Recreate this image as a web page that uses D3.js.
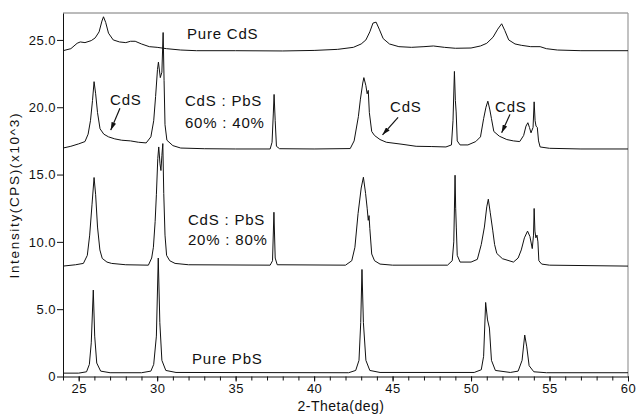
<!DOCTYPE html>
<html>
<head>
<meta charset="utf-8">
<script src="https://cdn.jsdelivr.net/npm/d3@7"></script>
<style>
  body { margin: 0; background: #fff; }
  svg { display: block; font-family: "Liberation Sans", Arial, sans-serif; }
</style>
</head>
<body>
<svg id="chart" width="636" height="416"></svg>
<script>
// traces: [2-theta (deg), intensity (x10^3 cps)]
const pureCdS = [
  [24.0,24.2],[24.5,24.35],[24.9,24.75],[25.1,24.85],[25.4,24.8],[25.8,24.95],[26.05,25.15],
  [26.3,25.6],[26.48,26.4],[26.58,26.72],[26.72,26.3],[26.9,25.5],[27.2,25.0],[27.6,24.85],
  [28.0,24.8],[28.3,24.9],[28.6,24.9],[29.0,24.7],[29.5,24.5],[30.0,24.45],[30.6,24.35],
  [31.5,24.25],[32.5,24.2],[35.0,24.2],[38.0,24.18],[40.0,24.22],[41.5,24.3],[42.5,24.45],
  [43.0,24.7],[43.3,25.0],[43.55,25.6],[43.75,26.25],[43.95,26.32],[44.15,25.8],[44.4,25.1],
  [44.8,24.7],[45.4,24.5],[46.2,24.45],[47.0,24.5],[47.6,24.55],[48.3,24.45],[49.0,24.38],
  [50.0,24.4],[50.6,24.55],[51.0,24.75],[51.4,25.2],[51.7,25.8],[51.95,26.2],[52.15,25.7],
  [52.4,25.0],[52.8,24.7],[53.2,24.6],[53.8,24.5],[54.4,24.5],[54.8,24.35],[55.5,24.25],
  [57.0,24.2],[60.0,24.2]
];
const mix6040 = [
  [24.0,16.97],[24.5,17.1],[25.0,17.28],[25.4,17.45],[25.6,18.0],[25.75,19.0],[25.88,20.5],
  [25.98,21.9],[26.08,21.0],[26.2,19.6],[26.36,18.4],[26.6,18.0],[26.9,17.8],[27.3,17.65],
  [27.74,17.55],[28.3,17.5],[28.8,17.4],[29.3,17.35],[29.6,17.8],[29.78,19.0],[29.9,20.8],
  [30.02,22.8],[30.08,23.35],[30.2,22.2],[30.3,22.6],[30.38,25.55],[30.44,22.0],[30.5,18.7],
  [30.62,17.55],[31.0,17.15],[31.5,16.97],[33.0,16.92],[35.0,16.9],[37.2,16.9],[37.32,17.4],
  [37.4,19.5],[37.45,20.95],[37.52,19.0],[37.6,17.1],[37.8,16.92],[40.0,16.9],[42.3,16.93],
  [42.55,17.5],[42.82,19.3],[42.95,20.6],[43.1,21.8],[43.17,22.2],[43.3,21.6],[43.38,21.0],
  [43.45,21.25],[43.52,19.6],[43.67,18.2],[43.85,17.9],[44.2,17.6],[44.6,17.4],[45.6,17.25],
  [46.5,17.1],[47.5,17.08],[48.4,17.05],[48.75,17.2],[48.85,19.0],[48.94,22.66],[49.0,20.5],
  [49.05,19.65],[49.12,17.5],[49.3,17.2],[49.8,17.2],[50.3,17.45],[50.6,17.8],[50.8,19.15],
  [50.95,20.0],[51.07,20.45],[51.2,19.8],[51.3,19.15],[51.45,18.2],[51.8,17.85],[52.28,17.6],
  [52.7,17.5],[53.1,17.45],[53.35,17.9],[53.5,18.6],[53.62,18.85],[53.72,18.5],[53.82,18.1],
  [53.95,18.5],[54.02,20.4],[54.08,19.0],[54.14,18.6],[54.22,18.5],[54.3,17.5],[54.4,17.05],
  [55.0,16.95],[57.0,16.9],[60.0,16.9]
];
const mix2080 = [
  [24.0,8.2],[24.8,8.3],[25.3,8.4],[25.55,9.0],[25.7,10.5],[25.85,12.8],[25.98,14.78],
  [26.08,13.5],[26.2,11.1],[26.35,9.4],[26.5,8.77],[26.8,8.5],[27.1,8.4],[28.0,8.3],
  [29.44,8.27],[29.65,8.8],[29.76,9.6],[29.87,11.5],[29.95,13.5],[30.04,16.2],[30.1,17.05],
  [30.18,15.8],[30.24,15.3],[30.3,16.4],[30.36,17.3],[30.42,13.6],[30.5,10.5],[30.6,9.0],
  [30.8,8.6],[31.14,8.4],[32.0,8.3],[37.2,8.27],[37.35,8.6],[37.44,12.2],[37.52,8.8],
  [37.65,8.3],[42.0,8.27],[42.4,8.6],[42.6,9.6],[42.8,12.1],[43.0,14.0],[43.14,14.8],
  [43.28,13.6],[43.38,12.5],[43.45,11.6],[43.5,11.95],[43.55,11.0],[43.67,9.1],[43.85,8.6],
  [44.2,8.35],[45.0,8.27],[48.5,8.27],[48.8,8.6],[48.9,10.0],[48.98,14.95],[49.02,12.5],
  [49.06,11.1],[49.12,9.0],[49.3,8.5],[50.0,8.5],[50.4,8.7],[50.65,9.8],[50.85,11.1],
  [51.0,12.6],[51.1,13.17],[51.22,12.2],[51.38,10.87],[51.5,9.8],[51.64,9.14],[52.0,8.75],
  [52.7,8.5],[53.0,8.8],[53.2,9.4],[53.4,10.3],[53.6,10.8],[53.75,10.4],[53.9,9.5],
  [53.98,10.5],[54.02,12.48],[54.07,10.8],[54.13,10.3],[54.2,10.5],[54.26,10.0],[54.32,8.6],
  [54.5,8.35],[55.0,8.27],[60.0,8.2]
];
const purePbS = [
  [24.0,0.25],[25.0,0.25],[25.5,0.35],[25.68,0.9],[25.8,2.5],[25.93,6.42],[26.02,3.0],
  [26.15,1.0],[26.4,0.4],[27.0,0.28],[29.0,0.28],[29.6,0.4],[29.78,0.9],[29.95,3.0],
  [30.07,8.8],[30.17,4.0],[30.3,1.2],[30.55,0.45],[31.2,0.3],[42.2,0.28],[42.65,0.45],
  [42.86,1.2],[42.97,4.0],[43.05,7.95],[43.14,4.0],[43.3,1.2],[43.55,0.45],[44.2,0.3],
  [50.2,0.3],[50.65,0.5],[50.8,1.5],[50.93,5.5],[51.05,4.2],[51.17,3.6],[51.3,1.2],
  [51.55,0.45],[52.5,0.3],[53.0,0.4],[53.25,1.2],[53.42,3.08],[53.55,2.2],[53.7,0.8],
  [54.0,0.35],[54.8,0.28],[60.0,0.28]
];
const traces = [pureCdS, mix6040, mix2080, purePbS];

// tick values
const xMajorTicks = [25, 30, 35, 40, 45, 50, 55, 60];
const yTicks = [0, 5, 10, 15, 20, 25];

// labels placed in data units: [text, x, y]
const labels = [
  ["Pure CdS", 31.9, 25.04],
  ["CdS", 27.0, 20.14],
  ["CdS : PbS", 31.77, 20.07],
  ["60% : 40%", 31.77, 18.43],
  ["CdS", 44.84, 19.62],
  ["CdS", 51.53, 19.62],
  ["CdS : PbS", 31.96, 11.24],
  ["20% : 80%", 31.96, 9.76],
  ["Pure PbS", 32.22, 0.93]
];
// arrows: [x1, y1, x2 (head), y2 (head)]
const arrows = [
  [27.63, 19.93, 27.04, 18.3],
  [45.35, 19.25, 44.36, 17.95],
  [52.48, 19.47, 51.95, 18.1]
];

const svg = d3.select("#chart");
const mLeft = 63, mRight = 628, mTop = 13, mBottom = 376.5;

const x = d3.scaleLinear().domain([24, 60]).range([mLeft, mRight]);
const y = d3.scaleLinear().domain([0, 27]).range([mBottom, mTop]);

// frame (top and right in grey)
svg.append("line")
  .attr("x1", mLeft).attr("x2", mRight).attr("y1", mTop).attr("y2", mTop)
  .attr("stroke", "#777").attr("stroke-width", 1);
svg.append("line")
  .attr("x1", mRight).attr("x2", mRight).attr("y1", mTop).attr("y2", mBottom)
  .attr("stroke", "#999").attr("stroke-width", 1.2);

// minor x ticks
const xMinor = svg.append("g")
  .attr("transform", `translate(0,${mBottom})`)
  .call(d3.axisBottom(x).tickValues(d3.range(24, 61, 1)).tickSize(4).tickFormat(""));
xMinor.select(".domain").remove();

// x axis
const xAxis = svg.append("g")
  .attr("transform", `translate(0,${mBottom})`)
  .call(d3.axisBottom(x).tickValues(xMajorTicks).tickSize(5).tickPadding(2).tickSizeOuter(0));
xAxis.selectAll("text").style("font-size", "13px").style("letter-spacing", "0.5px").attr("fill", "#111");

// y axis
const yAxis = svg.append("g")
  .attr("transform", `translate(${mLeft},0)`)
  .call(d3.axisLeft(y).tickValues(yTicks).tickSize(6).tickPadding(1).tickSizeOuter(0)
    .tickFormat(d => d === 0 ? "0" : d3.format(".1f")(d)));
yAxis.selectAll("text").style("font-size", "13px").style("letter-spacing", "0.5px").attr("fill", "#111");
svg.selectAll(".domain, .tick line").attr("stroke", "#111");

// axis titles
svg.append("text")
  .attr("x", 341).attr("y", 411)
  .attr("text-anchor", "middle")
  .style("font-size", "14px").style("letter-spacing", "0.5px")
  .attr("fill", "#111")
  .text("2-Theta(deg)");
svg.append("text")
  .attr("transform", "translate(19,196) rotate(-90)")
  .attr("text-anchor", "middle")
  .attr("textLength", 165).attr("lengthAdjust", "spacing")
  .style("font-size", "13.5px")
  .attr("fill", "#111")
  .text("Intensity(CPS)(x10^3)");

// traces
const line = d3.line().x(d => x(d[0])).y(d => y(d[1]));
svg.append("g").selectAll("path")
  .data(traces)
  .join("path")
  .attr("fill", "none")
  .attr("stroke", "#111")
  .attr("stroke-width", 1)
  .attr("stroke-linejoin", "round")
  .attr("d", line);

// annotations
svg.append("g").selectAll("text")
  .data(labels)
  .join("text")
  .attr("x", d => x(d[1]))
  .attr("y", d => y(d[2]))
  .style("font-size", "15px")
  .style("letter-spacing", "0.8px")
  .attr("fill", "#111")
  .text(d => d[0]);

svg.append("defs").append("marker")
  .attr("id", "head")
  .attr("viewBox", "0 0 10 6")
  .attr("refX", 10).attr("refY", 3)
  .attr("markerWidth", 8).attr("markerHeight", 5)
  .attr("markerUnits", "userSpaceOnUse")
  .attr("orient", "auto")
  .append("path")
  .attr("d", "M0,0 L10,3 L0,6 Z")
  .attr("fill", "#111");

svg.append("g").selectAll("line")
  .data(arrows)
  .join("line")
  .attr("x1", d => x(d[0])).attr("y1", d => y(d[1]))
  .attr("x2", d => x(d[2])).attr("y2", d => y(d[3]))
  .attr("stroke", "#111")
  .attr("stroke-width", 1.2)
  .attr("marker-end", "url(#head)");
</script>
</body>
</html>
